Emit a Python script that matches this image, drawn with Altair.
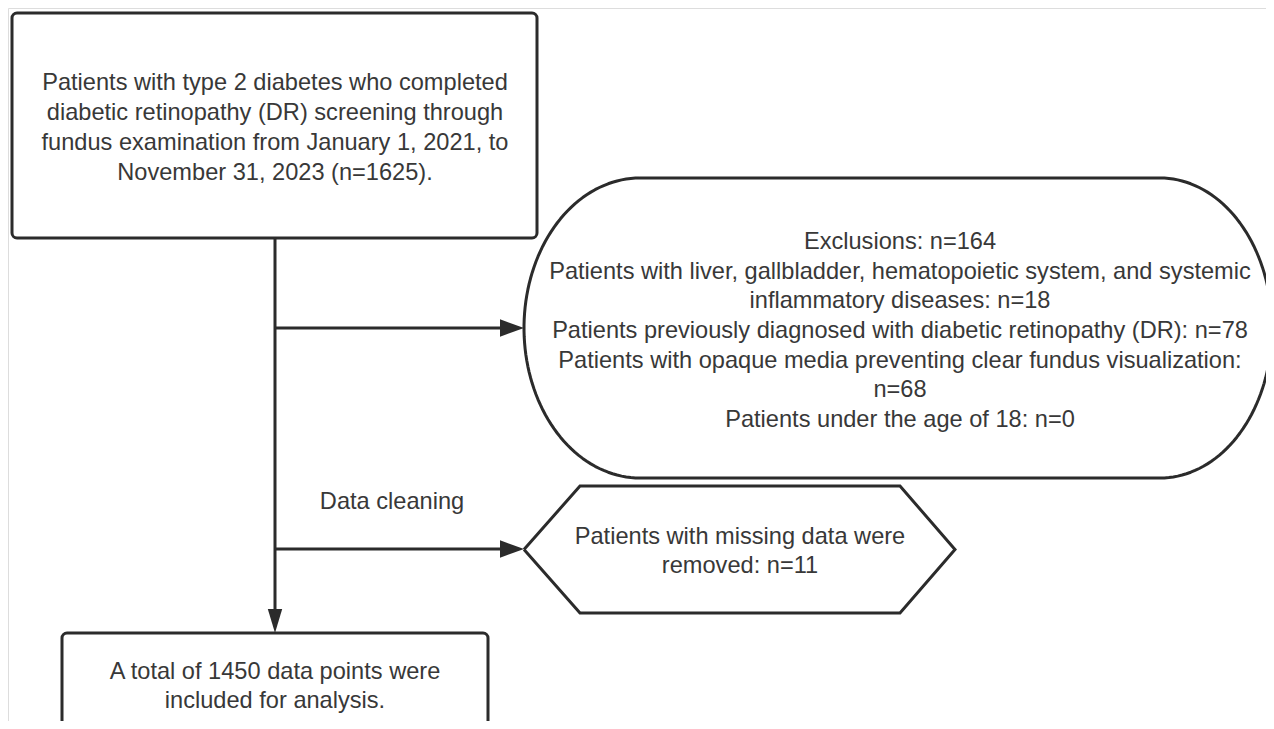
import altair as alt
import numpy as np
import pandas as pd

# ---- text content ----
box1_lines = [
    "Patients with type 2 diabetes who completed",
    "diabetic retinopathy (DR) screening through",
    "fundus examination from January 1, 2021, to",
    "November 31, 2023 (n=1625).",
]
excl_lines = [
    "Exclusions: n=164",
    "Patients with liver, gallbladder, hematopoietic system, and systemic",
    "inflammatory diseases: n=18",
    "Patients previously diagnosed with diabetic retinopathy (DR): n=78",
    "Patients with opaque media preventing clear fundus visualization:",
    "n=68",
    "Patients under the age of 18: n=0",
]
clean_lines = ["Patients with missing data were", "removed: n=11"]
final_lines = ["A total of 1450 data points were", "included for analysis."]
edge_label = "Data cleaning"

# ---- layout (pixel coordinates of the page) ----
W, H = 1258, 713
M = 8
LH = 29.7
FONT = "Liberation Sans"
FS = 23.6
STROKE = "#2b2b2b"
TEXTC = "#383838"

box1 = dict(x=12, x2=537, y=13, y2=238)
box3 = dict(x=62, x2=488, y=633, y2=760)
stad = dict(xl=640, xr=1160, yt=178, yb=478, rxl=116, rxr=112)
hexa = dict(xl=524, xa=580, xb=900, xr=955, yt=486, yb=613)
stem_x = 275
arrow_y = [328, 549]

xs = alt.Scale(domain=[M, M + W], nice=False, zero=False)
ys = alt.Scale(domain=[M, M + H], nice=False, zero=False, reverse=True)


def X(f="x"):
    return alt.X(f"{f}:Q", scale=xs, axis=None)


def Y(f="y"):
    return alt.Y(f"{f}:Q", scale=ys, axis=None)


# rounded boxes
rects = pd.DataFrame([box1, box3])
rect_layer = alt.Chart(rects).mark_rect(
    fill="white", stroke=STROKE, strokeWidth=3, cornerRadius=5
).encode(x=X(), x2="x2:Q", y=Y(), y2="y2:Q")

# stadium outline
cy = (stad["yt"] + stad["yb"]) / 2
ry = (stad["yb"] - stad["yt"]) / 2
pts = [(stad["xl"], stad["yt"]), (stad["xr"], stad["yt"])]
for a in np.linspace(-np.pi / 2, np.pi / 2, 80):
    pts.append((stad["xr"] + stad["rxr"] * np.cos(a), cy + ry * np.sin(a)))
pts.append((stad["xl"], stad["yb"]))
for a in np.linspace(np.pi / 2, 3 * np.pi / 2, 80):
    pts.append((stad["xl"] + stad["rxl"] * np.cos(a), cy + ry * np.sin(a)))
pts.append(pts[0])
stad_df = pd.DataFrame(pts, columns=["x", "y"])
stad_df["o"] = range(len(stad_df))
stad_layer = alt.Chart(stad_df).mark_line(
    color=STROKE, strokeWidth=3, strokeJoin="round"
).encode(x=X(), y=Y(), order="o:Q")

# hexagon outline
hy = (hexa["yt"] + hexa["yb"]) / 2
hpts = [
    (hexa["xl"], hy), (hexa["xa"], hexa["yt"]), (hexa["xb"], hexa["yt"]),
    (hexa["xr"], hy), (hexa["xb"], hexa["yb"]), (hexa["xa"], hexa["yb"]),
    (hexa["xl"], hy),
]
hex_df = pd.DataFrame(hpts, columns=["x", "y"])
hex_df["o"] = range(len(hex_df))
hex_layer = alt.Chart(hex_df).mark_line(
    color=STROKE, strokeWidth=3, strokeJoin="miter"
).encode(x=X(), y=Y(), order="o:Q")

# connector lines
segs = pd.DataFrame([
    dict(x=stem_x, x2=stem_x, y=box1["y2"], y2=box3["y"] - 15),
    dict(x=stem_x, x2=505, y=arrow_y[0], y2=arrow_y[0]),
    dict(x=stem_x, x2=505, y=arrow_y[1], y2=arrow_y[1]),
])
seg_layer = alt.Chart(segs).mark_rule(color=STROKE, strokeWidth=3).encode(
    x=X(), x2="x2:Q", y=Y(), y2="y2:Q"
)

# arrow heads
heads = pd.DataFrame([
    dict(x=512, y=arrow_y[0], s="M1,0L-1,-0.72L-1,0.72Z"),
    dict(x=512, y=arrow_y[1], s="M1,0L-1,-0.72L-1,0.72Z"),
    dict(x=stem_x, y=box3["y"] - 12, s="M0,1L-0.6,-1L0.6,-1Z"),
])
head_layer = alt.Chart(heads).mark_point(
    filled=True, color=STROKE, opacity=1, size=576, strokeWidth=0
).encode(x=X(), y=Y(), shape=alt.Shape("s:N", scale=None))

# texts
rows = []


def add_block(lines, cx, cyc):
    n = len(lines)
    for i, t in enumerate(lines):
        rows.append(dict(x=cx, y=cyc + (i - (n - 1) / 2) * LH, t=t))


add_block(box1_lines, stem_x, 128)
add_block(excl_lines, 900, 331)
add_block(clean_lines, 740, 551.5)
add_block(final_lines, stem_x, 686.5)
add_block([edge_label], 392, 502)
txt = pd.DataFrame(rows)
text_layer = alt.Chart(txt).mark_text(
    font=FONT, fontSize=FS, color=TEXTC, align="center", baseline="middle"
).encode(x=X(), y=Y(), text="t:N")

chart = alt.layer(
    rect_layer, stad_layer, hex_layer, seg_layer, head_layer, text_layer
).properties(
    width=W, height=H, padding=0, autosize=alt.AutoSizeParams(type="none")
).configure_view(stroke="transparent", strokeWidth=0).configure(background="white")

chart.save("out.html", embed_options={"renderer": "svg", "actions": False})
